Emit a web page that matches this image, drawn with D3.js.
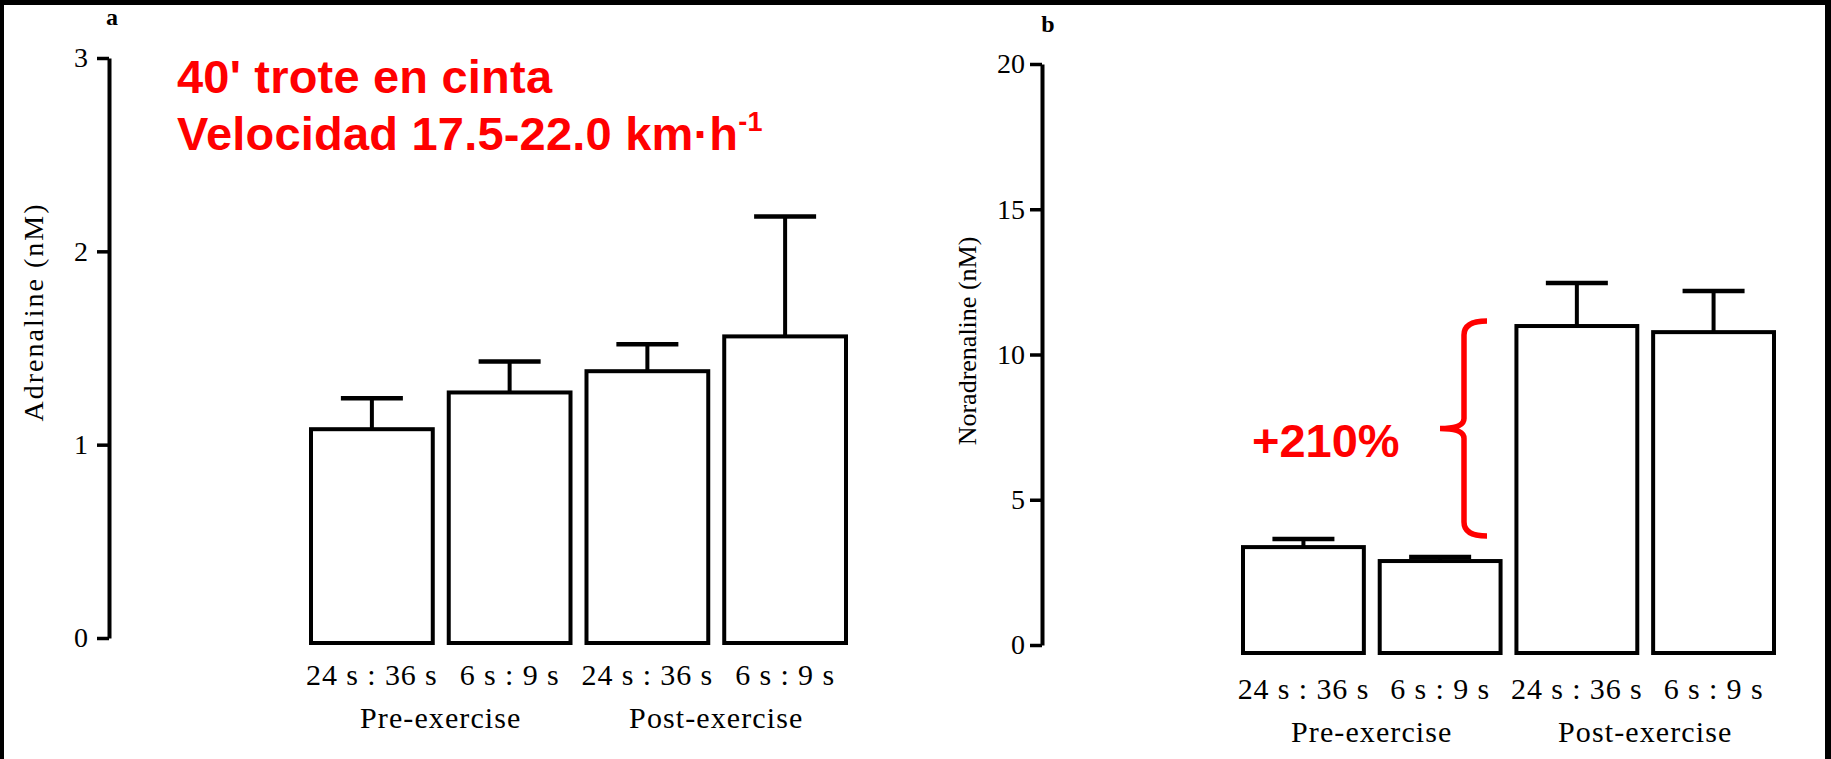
<!DOCTYPE html>
<html>
<head>
<meta charset="utf-8">
<script src="https://cdn.jsdelivr.net/npm/d3@7"></script>
<style>
  html, body { margin: 0; padding: 0; background: #000; }
  svg { display: block; }
</style>
</head>
<body>
<svg width="1831" height="759"></svg>
<script>
// категории (одинаковые для обеих панелей)
const conditions = ["24 s : 36 s", "6 s : 9 s", "24 s : 36 s", "6 s : 9 s"];
const phases = ["Pre-exercise", "Post-exercise"];

// панель a: адреналин (nM), среднее и ошибка
const adrenalineMean = [1.08, 1.27, 1.38, 1.56];
const adrenalineSem  = [0.16, 0.16, 0.14, 0.62];
const adrenalineTicks = [0, 1, 2, 3];

// панель b: норадреналин (nM)
const noradrenalineMean = [3.37, 2.89, 10.98, 10.77];
const noradrenalineSem  = [0.28, 0.14, 1.48, 1.42];
const noradrenalineTicks = [0, 5, 10, 15, 20];

// красные подписи
const titleLines = ["40' trote en cinta", "Velocidad 17.5-22.0 km·h"];
const titleSup = "-1";
const increaseLabel = "+210%";
const braceRange = [3.75, 11.15]; // nM, между pre и post

const svg = d3.select("svg");
const W = +svg.attr("width");
const H = +svg.attr("height");

// фон с чёрной рамкой
svg.append("rect").attr("width", W).attr("height", H).attr("fill", "#000");
svg.append("rect").attr("x", 4).attr("y", 5).attr("width", W - 10).attr("height", H - 5).attr("fill", "#fff");

const serif = "Liberation Serif, Times New Roman, serif";

function drawPanel(cfg) {
    const g = svg.append("g");

    const x = d3.scaleBand()
        .domain(d3.range(cfg.mean.length))
        .range(cfg.xRange)
        .paddingInner(0.116)
        .paddingOuter(0);
    const y = d3.scaleLinear().domain(cfg.domain).range(cfg.yRange);
    const bw = x.bandwidth();

    // ось y
    const axis = d3.axisLeft(y)
        .tickValues(cfg.ticks)
        .tickSize(12)
        .tickSizeOuter(0)
        .tickPadding(cfg.tickPad)
        .tickFormat(d3.format("d"));
    const ga = g.append("g")
        .attr("transform", `translate(${cfg.axisX},0)`)
        .call(axis);
    ga.select(".domain").attr("stroke", "#000").attr("stroke-width", 4);
    ga.selectAll(".tick line").attr("stroke", "#000").attr("stroke-width", 3.5);
    ga.selectAll(".tick text")
        .attr("font-family", serif)
        .attr("font-size", 28)
        .attr("fill", "#000");

    // столбцы
    const base = y(0) + cfg.baseOffset;
    g.selectAll("rect.bar")
        .data(cfg.mean)
        .join("rect")
        .attr("class", "bar")
        .attr("x", (d, i) => x(i))
        .attr("y", d => y(d))
        .attr("width", bw)
        .attr("height", d => base - y(d))
        .attr("fill", "#fff")
        .attr("stroke", "#000")
        .attr("stroke-width", 4);

    // ошибки (только вверх)
    const cap = 31;
    cfg.mean.forEach((m, i) => {
        const cx = x(i) + bw / 2;
        const top = y(m + cfg.sem[i]);
        g.append("line")
            .attr("x1", cx).attr("x2", cx)
            .attr("y1", y(m)).attr("y2", top)
            .attr("stroke", "#000").attr("stroke-width", 4);
        g.append("line")
            .attr("x1", cx - cap).attr("x2", cx + cap)
            .attr("y1", top).attr("y2", top)
            .attr("stroke", "#000").attr("stroke-width", 4.5);
    });

    // подписи условий
    g.selectAll("text.cond")
        .data(conditions)
        .join("text")
        .attr("class", "cond")
        .attr("x", (d, i) => x(i) + bw / 2)
        .attr("y", cfg.condY)
        .attr("text-anchor", "middle")
        .attr("font-family", serif)
        .attr("font-size", 30)
        .attr("letter-spacing", 0.9)
        .text(d => d);

    // подписи фаз
    g.selectAll("text.phase")
        .data(phases)
        .join("text")
        .attr("class", "phase")
        .attr("x", (d, i) => (x(i * 2) + x(i * 2 + 1) + bw) / 2)
        .attr("y", cfg.phaseY)
        .attr("text-anchor", "middle")
        .attr("font-family", serif)
        .attr("font-size", 30)
        .attr("letter-spacing", 1.1)
        .text(d => d);

    // название оси
    g.append("text")
        .attr("transform", `translate(${cfg.titleX},${cfg.titleY}) rotate(-90)`)
        .attr("text-anchor", "middle")
        .attr("font-family", serif)
        .attr("font-size", cfg.titleSize)
        .attr("letter-spacing", cfg.titleSpacing)
        .text(cfg.title);

    // буква панели
    g.append("text")
        .attr("x", cfg.letterX)
        .attr("y", cfg.letterY)
        .attr("text-anchor", "middle")
        .attr("font-family", serif)
        .attr("font-weight", "bold")
        .attr("font-size", 24)
        .text(cfg.letter);

    return { x, y };
}

drawPanel({
    mean: adrenalineMean, sem: adrenalineSem, ticks: adrenalineTicks,
    domain: [0, 3], yRange: [638, 58], xRange: [311, 846],
    axisX: 109, tickPad: 9, baseOffset: 5,
    condY: 685, phaseY: 728,
    title: "Adrenaline (nM)", titleX: 43, titleY: 312, titleSize: 28, titleSpacing: 2,
    letter: "a", letterX: 112, letterY: 25
});

const panelB = drawPanel({
    mean: noradrenalineMean, sem: noradrenalineSem, ticks: noradrenalineTicks,
    domain: [0, 20], yRange: [645, 64], xRange: [1243, 1774],
    axisX: 1042, tickPad: 5, baseOffset: 8,
    condY: 699, phaseY: 742,
    title: "Noradrenaline (nM)", titleX: 976, titleY: 341, titleSize: 26, titleSpacing: 0,
    letter: "b", letterX: 1048, letterY: 32
});

// красный заголовок
const red = "#ff0000";
const sans = "Liberation Sans, Arial, sans-serif";
svg.append("text")
    .attr("x", 177).attr("y", 93)
    .attr("font-family", sans)
    .attr("font-weight", "bold")
    .attr("font-size", 47)
    .attr("letter-spacing", 0.2)
    .attr("fill", red)
    .text(titleLines[0]);
const t2 = svg.append("text")
    .attr("x", 177).attr("y", 150)
    .attr("font-family", sans)
    .attr("font-weight", "bold")
    .attr("font-size", 47)
    .attr("letter-spacing", 0.2)
    .attr("fill", red);
t2.append("tspan").text(titleLines[1]);
t2.append("tspan").attr("font-size", 27).attr("dy", -19).text(titleSup);

// +210% и фигурная скобка
svg.append("text")
    .attr("x", 1252).attr("y", 457)
    .attr("font-family", sans)
    .attr("font-weight", "bold")
    .attr("font-size", 47)
    .attr("fill", red)
    .text(increaseLabel);

const yB = panelB.y;
const bTop = yB(braceRange[1]);
const bBot = yB(braceRange[0]);
const bMid = (bTop + bBot) / 2;
const bx = 1464, hookX = 1487, tipX = 1440;
const brace = d3.path();
brace.moveTo(hookX, bTop);
brace.quadraticCurveTo(bx, bTop, bx, bTop + 14);
brace.lineTo(bx, bMid - 10);
brace.quadraticCurveTo(bx, bMid, tipX, bMid);
brace.quadraticCurveTo(bx, bMid, bx, bMid + 10);
brace.lineTo(bx, bBot - 14);
brace.quadraticCurveTo(bx, bBot, hookX, bBot);
svg.append("path")
    .attr("d", brace.toString())
    .attr("fill", "none")
    .attr("stroke", red)
    .attr("stroke-width", 5.5);
</script>
</body>
</html>
